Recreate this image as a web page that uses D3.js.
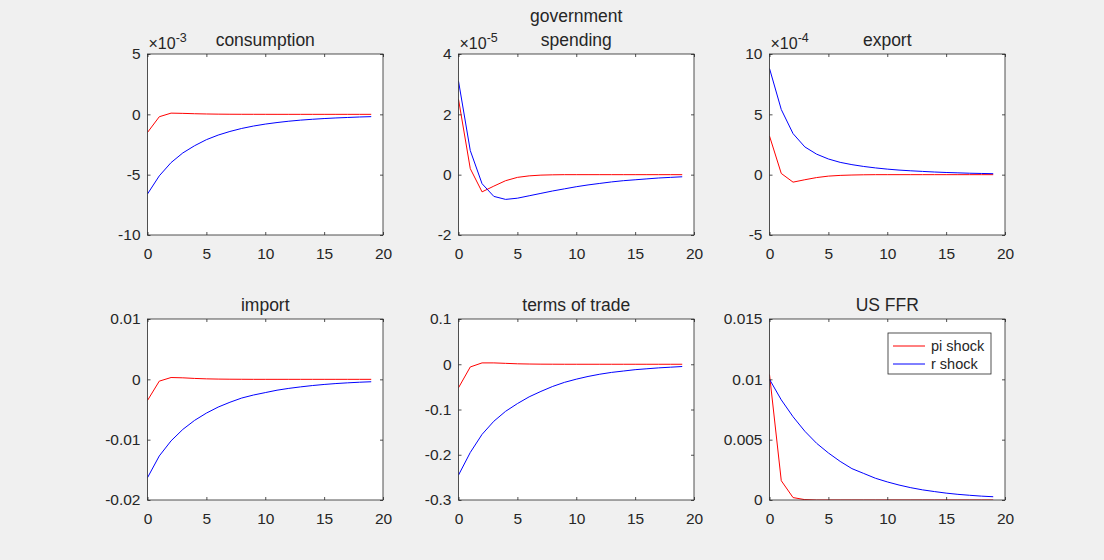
<!DOCTYPE html>
<html>
<head>
<meta charset="utf-8">
<script src="https://cdn.jsdelivr.net/npm/d3@7"></script>
<style>
  html, body { margin: 0; padding: 0; background: #f0f0f0; }
  svg { display: block; font-family: "Liberation Sans", Arial, Helvetica, sans-serif; }
</style>
</head>
<body>
<svg id="fig" width="1104" height="560"></svg>
<script>
// Impulse responses, periods 0..19
const periods = d3.range(0, 20);
const seriesNames = ["pi shock", "r shock"];

// consumption (x 1e-3)
const consumptionPi = [-1.5, -0.2, 0.1, 0.08, 0.05, 0.03, 0.015, 0.008, 0.004, 0.002, 0.001, 0, 0, 0, 0, 0, 0, 0, 0, 0];
const consumptionR  = [-6.6, -5.1, -4.0, -3.2, -2.6, -2.1, -1.72, -1.42, -1.17, -0.97, -0.81, -0.68, -0.57, -0.48, -0.41, -0.35, -0.3, -0.26, -0.22, -0.19];

// government spending (x 1e-5)
const govPi = [2.5, 0.2, -0.57, -0.38, -0.2, -0.09, -0.04, -0.015, -0.005, 0, 0, 0, 0, 0, 0, 0, 0, 0, 0, 0];
const govR  = [3.1, 0.8, -0.3, -0.72, -0.82, -0.78, -0.7, -0.62, -0.54, -0.47, -0.4, -0.34, -0.29, -0.24, -0.2, -0.17, -0.14, -0.11, -0.09, -0.07];

// export (x 1e-4)
const exportPi = [3.2, 0.1, -0.62, -0.42, -0.24, -0.12, -0.06, -0.03, -0.01, 0, 0, 0, 0, 0, 0, 0, 0, 0, 0, 0];
const exportR  = [8.8, 5.4, 3.4, 2.3, 1.7, 1.3, 1.02, 0.83, 0.68, 0.56, 0.46, 0.38, 0.32, 0.27, 0.22, 0.18, 0.15, 0.12, 0.1, 0.08];

// import
const importPi = [-0.0035, -0.0003, 0.0003, 0.00025, 0.00015, 0.00008, 0.00004, 0.00002, 0.00001, 0, 0, 0, 0, 0, 0, 0, 0, 0, 0, 0];
const importR  = [-0.0163, -0.0127, -0.0102, -0.0083, -0.0068, -0.0056, -0.0046, -0.0038, -0.0031, -0.0026, -0.0022, -0.0018, -0.0015, -0.00125, -0.00103, -0.00085, -0.0007, -0.00058, -0.00048, -0.0004];

// terms of trade
const totPi = [-0.052, -0.006, 0.003, 0.003, 0.002, 0.001, 0.0005, 0.0002, 0.0001, 0, 0, 0, 0, 0, 0, 0, 0, 0, 0, 0];
const totR  = [-0.245, -0.195, -0.155, -0.126, -0.104, -0.087, -0.072, -0.06, -0.049, -0.04, -0.033, -0.027, -0.022, -0.018, -0.015, -0.012, -0.01, -0.008, -0.0065, -0.005];

// US FFR
const ffrPi = [0.0104, 0.0016, 0.0002, 0.00003, 0, 0, 0, 0, 0, 0, 0, 0, 0, 0, 0, 0, 0, 0, 0, 0];
const ffrR  = [0.01, 0.0083, 0.0069, 0.0057, 0.0047, 0.0039, 0.0032, 0.0026, 0.0022, 0.0018, 0.0015, 0.00124, 0.00102, 0.00084, 0.0007, 0.00057, 0.00047, 0.00039, 0.00032, 0.00027];

// Axis settings
const xTicks = [0, 5, 10, 15, 20];
const panelTitles = [["consumption"], ["government", "spending"], ["export"], ["import"], ["terms of trade"], ["US FFR"]];
const yDomains = [[-10, 5], [-2, 4], [-5, 10], [-0.02, 0.01], [-0.3, 0.1], [0, 0.015]];
const yTicks = [
  [-10, -5, 0, 5],
  [-2, 0, 2, 4],
  [-5, 0, 5, 10],
  [-0.02, -0.01, 0, 0.01],
  [-0.3, -0.2, -0.1, 0, 0.1],
  [0, 0.005, 0.01, 0.015]
];
const exponents = ["-3", "-5", "-4", null, null, null];
const piSeries = [consumptionPi, govPi, exportPi, importPi, totPi, ffrPi];
const rSeries  = [consumptionR, govR, exportR, importR, totR, ffrR];

const colors = { pi: "#ff0000", r: "#0000ff" };
const ink = "#262626";

// Subplot geometry
const colLeft = [147.5, 458.5, 769.5];
const axW = 235.5;
const rowTop = [54, 319];
const axH = 181;

const svg = d3.select("#fig");
svg.append("rect").attr("width", 1104).attr("height", 560).attr("fill", "#f0f0f0");

const fmt = d => String(+d.toFixed(6));

panelTitles.forEach((title, i) => {
  const col = i % 3, row = Math.floor(i / 3);
  const x0 = colLeft[col], y0 = rowTop[row];
  const g = svg.append("g").attr("transform", `translate(${x0},${y0})`);

  const x = d3.scaleLinear().domain([0, 20]).range([0, axW]);
  const y = d3.scaleLinear().domain(yDomains[i]).range([axH, 0]);

  g.append("rect").attr("width", axW).attr("height", axH).attr("fill", "#fff");

  // plotted responses
  const line = d3.line().x((d, k) => x(periods[k])).y(d => y(d));
  const clip = "clip" + i;
  g.append("clipPath").attr("id", clip).append("rect").attr("width", axW).attr("height", axH);
  const plot = g.append("g").attr("clip-path", `url(#${clip})`);
  plot.append("path").datum(piSeries[i]).attr("d", line)
    .attr("fill", "none").attr("stroke", colors.pi).attr("stroke-width", 1);
  plot.append("path").datum(rSeries[i]).attr("d", line)
    .attr("fill", "none").attr("stroke", colors.r).attr("stroke-width", 1);

  // axes with inward ticks on all four sides
  const styleAxis = sel => {
    sel.select(".domain").remove();
    sel.selectAll(".tick line").attr("stroke", ink).attr("stroke-width", 0.8);
    sel.selectAll(".tick text").attr("fill", ink).style("font-size", "15.5px");
  };
  g.append("g").attr("transform", `translate(0,${axH})`)
    .call(d3.axisBottom(x).tickValues(xTicks).tickFormat(fmt).tickSizeInner(-3).tickSizeOuter(0).tickPadding(12.5))
    .call(styleAxis);
  g.append("g")
    .call(d3.axisTop(x).tickValues(xTicks).tickFormat("").tickSizeInner(-3).tickSizeOuter(0))
    .call(styleAxis);
  g.append("g")
    .call(d3.axisLeft(y).tickValues(yTicks[i]).tickFormat(fmt).tickSizeInner(-3).tickSizeOuter(0).tickPadding(7))
    .call(styleAxis);
  g.append("g").attr("transform", `translate(${axW},0)`)
    .call(d3.axisRight(y).tickValues(yTicks[i]).tickFormat("").tickSizeInner(-3).tickSizeOuter(0))
    .call(styleAxis);

  g.append("rect").attr("width", axW).attr("height", axH)
    .attr("fill", "none").attr("stroke", ink).attr("stroke-width", 0.8);

  // title
  const t = g.append("text").attr("text-anchor", "middle").attr("fill", ink)
    .style("font-size", "17.5px");
  title.forEach((ln, k) => {
    t.append("tspan").attr("x", axW / 2)
      .attr("y", -8 - (title.length - 1 - k) * 24).text(ln);
  });

  // exponent multiplier
  if (exponents[i]) {
    const e = g.append("text").attr("x", 1).attr("y", -5).attr("fill", ink).style("font-size", "16px");
    e.append("tspan").text("\u00d710");
    e.append("tspan").attr("dy", -7).style("font-size", "12.5px").text(exponents[i]);
  }

  // legend in the last panel
  if (i === 5) {
    const lg = g.append("g").attr("transform", `translate(${888 - x0},${333 - y0})`);
    lg.append("rect").attr("width", 103).attr("height", 41)
      .attr("fill", "#fff").attr("stroke", ink).attr("stroke-width", 0.8);
    [colors.pi, colors.r].forEach((c, k) => {
      const yy = 13 + k * 18;
      lg.append("line").attr("x1", 5).attr("x2", 37).attr("y1", yy).attr("y2", yy)
        .attr("stroke", c).attr("stroke-width", 1);
      lg.append("text").attr("x", 43).attr("y", yy).attr("dy", "0.35em")
        .attr("fill", ink).style("font-size", "14.5px").text(seriesNames[k]);
    });
  }
});
</script>
</body>
</html>
